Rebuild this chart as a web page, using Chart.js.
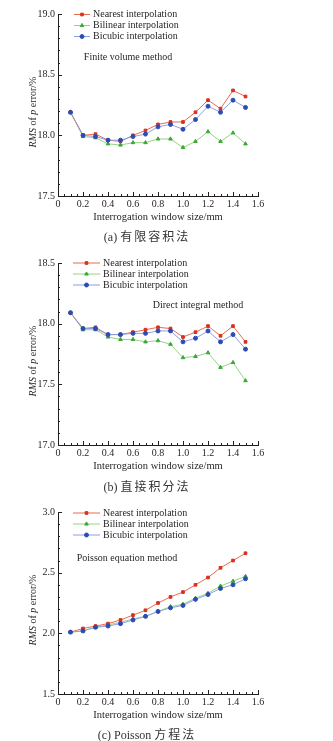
<!DOCTYPE html>
<html>
<head>
<meta charset="utf-8">
<script src="https://cdn.jsdelivr.net/npm/chart.js@4.4.0/dist/chart.umd.min.js"></script>
<style>
  body { margin: 0; background: #fff; width: 333px; height: 741px; position: relative; overflow: hidden; }
  canvas { position: absolute; left: 0; }
  .caption { position: absolute; left: 0; width: 294px; height: 16px; line-height: 16px; text-align: center;
             font: 12px "Liberation Serif", serif; color: #333; white-space: nowrap; }
  .caption .zh { font-family: "Noto Sans CJK SC", sans-serif; letter-spacing: 2px; }
</style>
</head>
<body>
<canvas id="fv" width="333" height="247" style="top:0"></canvas>
<canvas id="di" width="333" height="247" style="top:249px"></canvas>
<canvas id="pe" width="333" height="247" style="top:498px"></canvas>
<div class="caption" style="top:227px">(a) <span class="zh">有限容积法</span></div>
<div class="caption" style="top:477px">(b) <span class="zh">直接积分法</span></div>
<div class="caption" style="top:725px">(c) Poisson <span class="zh">方程法</span></div>
<script>
const windowSize = [0.1, 0.2, 0.3, 0.4, 0.5, 0.6, 0.7, 0.8, 0.9, 1.0, 1.1, 1.2, 1.3, 1.4, 1.5]
const xTicks = [0, 0.2, 0.4, 0.6, 0.8, 1.0, 1.2, 1.4, 1.6]
const xTickLabels = ["0", "0.2", "0.4", "0.6", "0.8", "1.0", "1.2", "1.4", "1.6"]

const seriesNames = ["Nearest interpolation", "Bilinear interpolation", "Bicubic interpolation"]

// (a) finite volume method
const nearestFV = [18.19, 18.00, 18.01, 17.96, 17.95, 18.00, 18.04, 18.09, 18.11, 18.11, 18.19, 18.29, 18.22, 18.37, 18.32]
const bilinearFV = [18.19, 17.99, 17.98, 17.93, 17.92, 17.94, 17.94, 17.97, 17.97, 17.90, 17.95, 18.03, 17.95, 18.02, 17.93]
const bicubicFV = [18.19, 18.00, 17.99, 17.96, 17.96, 17.99, 18.01, 18.07, 18.09, 18.05, 18.13, 18.24, 18.19, 18.29, 18.23]
const yTicksFV = [17.5, 18.0, 18.5, 19.0]
const yTickLabelsFV = ["17.5", "18.0", "18.5", "19.0"]

// (b) direct integral method
const nearestDI = [18.09, 17.96, 17.97, 17.91, 17.91, 17.93, 17.95, 17.97, 17.96, 17.89, 17.93, 17.98, 17.90, 17.98, 17.85]
const bilinearDI = [18.09, 17.95, 17.95, 17.89, 17.87, 17.87, 17.85, 17.86, 17.83, 17.72, 17.73, 17.76, 17.64, 17.68, 17.53]
const bicubicDI = [18.09, 17.96, 17.96, 17.91, 17.91, 17.92, 17.92, 17.94, 17.94, 17.85, 17.88, 17.94, 17.85, 17.91, 17.79]
const yTicksDI = [17.0, 17.5, 18.0, 18.5]
const yTickLabelsDI = ["17.0", "17.5", "18.0", "18.5"]

// (c) Poisson equation method
const nearestPE = [2.01, 2.04, 2.06, 2.08, 2.11, 2.15, 2.19, 2.25, 2.30, 2.34, 2.40, 2.46, 2.54, 2.60, 2.66]
const bilinearPE = [2.01, 2.02, 2.05, 2.07, 2.09, 2.12, 2.14, 2.18, 2.22, 2.24, 2.29, 2.33, 2.39, 2.43, 2.47]
const bicubicPE = [2.01, 2.02, 2.05, 2.06, 2.08, 2.11, 2.14, 2.18, 2.21, 2.23, 2.28, 2.32, 2.37, 2.40, 2.45]
const yTicksPE = [1.5, 2.0, 2.5, 3.0]
const yTickLabelsPE = ["1.5", "2.0", "2.5", "3.0"]

const ink = "#231f20"
const serif = "'Liberation Serif', 'Times New Roman', serif"
const lineColors = ["#ea6b4b", "#96d386", "#8e9fe3"]
const markColors = ["#d8301f", "#3aa935", "#2c4cb4"]
const markStyles = ["rect", "triangle", "circle"]
const markRadius = [1.9, 2.1, 2.0]
const drawOrder = [1, 2, 0]

// inward minor/major ticks, y title with italics, legend and method note
const decorations = {
  id: "decorations",
  afterDraw(chart, args, o) {
    const ctx = chart.ctx
    const xs = chart.scales.x, ys = chart.scales.y, a = chart.chartArea
    ctx.save()
    ctx.strokeStyle = ink
    ctx.lineWidth = 1
    ctx.beginPath()
    for (let i = 0; i <= 32; i++) {
      const px = Math.round(xs.getPixelForValue(i * 0.05)) + 0.5
      const len = i % 4 === 0 ? 4 : 2
      ctx.moveTo(px, a.bottom)
      ctx.lineTo(px, a.bottom - len)
    }
    const yMin = ys.min
    for (let i = 0; i <= 15; i++) {
      const py = Math.round(ys.getPixelForValue(yMin + i * 0.1)) + 0.5
      const len = i % 5 === 0 ? 4 : 2
      ctx.moveTo(a.left, py)
      ctx.lineTo(a.left + len, py)
    }
    ctx.stroke()

    // y axis title: "RMS of p error/%"
    const parts = [["RMS", true], [" of ", false], ["p", true], [" error/%", false]]
    ctx.fillStyle = ink
    ctx.textBaseline = "middle"
    ctx.textAlign = "left"
    let total = 0
    parts.forEach(p => {
      ctx.font = (p[1] ? "italic " : "") + "10px " + serif
      total += ctx.measureText(p[0]).width
    })
    ctx.translate(33, (a.top + a.bottom) / 2 + 7)
    ctx.rotate(-Math.PI / 2)
    let cx = -total / 2
    parts.forEach(p => {
      ctx.font = (p[1] ? "italic " : "") + "10px " + serif
      ctx.fillText(p[0], cx, 0)
      cx += ctx.measureText(p[0]).width
    })
    ctx.setTransform(1, 0, 0, 1, 0, 0)

    // legend
    ctx.font = "10px " + serif
    chart.data.datasets.forEach((ds, i) => {
      const ly = o.legendY + i * 11
      ctx.strokeStyle = ds.borderColor
      ctx.beginPath()
      ctx.moveTo(o.legendX, ly + 0.5)
      ctx.lineTo(o.legendX + o.legendW, ly + 0.5)
      ctx.stroke()
      ctx.fillStyle = ds.pointBackgroundColor
      ctx.strokeStyle = ds.pointBackgroundColor
      Chart.helpers.drawPoint(ctx, { pointStyle: ds.pointStyle, rotation: 0, radius: ds.pointRadius, borderWidth: 1 }, o.legendX + o.legendW / 2, ly + 0.5)
      ctx.fillStyle = ink
      ctx.textAlign = "left"
      ctx.fillText(ds.label, o.legendX + o.legendW + 3, ly + 0.5)
    })

    // method note
    ctx.font = "10px " + serif
    ctx.textAlign = "center"
    ctx.fillText(o.note, o.noteX, o.noteY)
    ctx.restore()
  }
}

function makeChart(id, series, yTicks, yTickLabels, note) {
  const ctx = document.getElementById(id).getContext("2d")
  return new Chart(ctx, {
    type: "line",
    data: {
      datasets: series.map((vals, i) => ({
        label: seriesNames[i],
        data: windowSize.map((x, j) => ({ x, y: vals[j] })),
        borderColor: lineColors[i],
        borderWidth: 1,
        pointStyle: markStyles[i],
        pointRadius: markRadius[i],
        pointBackgroundColor: markColors[i],
        pointBorderColor: markColors[i],
        pointBorderWidth: 1,
        tension: 0,
        order: drawOrder[i],
      })),
    },
    options: {
      responsive: false,
      animation: false,
      events: [],
      layout: { padding: { top: 14, right: 75, left: 0, bottom: 0 } },
      plugins: {
        legend: { display: false },
        tooltip: { enabled: false },
        decorations: note,
      },
      scales: {
        x: {
          type: "linear",
          min: 0,
          max: 1.6,
          afterFit: s => { s.height = 51 },
          afterBuildTicks: s => { s.ticks = xTicks.map(v => ({ value: v })) },
          border: { color: ink, width: 1 },
          grid: { drawOnChartArea: false, drawTicks: false },
          ticks: {
            padding: 2,
            color: ink,
            maxRotation: 0,
            font: { family: serif, size: 10 },
            callback: (v, i) => xTickLabels[i],
          },
          title: {
            display: true,
            text: "Interrogation window size/mm",
            color: ink,
            font: { family: serif, size: 10.5 },
            padding: { top: 0, bottom: 23 },
          },
        },
        y: {
          min: yTicks[0],
          max: yTicks[yTicks.length - 1],
          afterFit: s => { s.width = 58 },
          afterBuildTicks: s => { s.ticks = yTicks.map(v => ({ value: v })) },
          border: { color: ink, width: 1 },
          grid: { drawOnChartArea: false, drawTicks: false },
          ticks: {
            padding: 3,
            color: ink,
            font: { family: serif, size: 10 },
            callback: (v, i) => yTickLabels[i],
          },
        },
      },
    },
    plugins: [decorations],
  })
}

makeChart("fv", [nearestFV, bilinearFV, bicubicFV], yTicksFV, yTickLabelsFV,
  { legendX: 74, legendY: 14, legendW: 16, note: "Finite volume method", noteX: 128, noteY: 57 })
makeChart("di", [nearestDI, bilinearDI, bicubicDI], yTicksDI, yTickLabelsDI,
  { legendX: 73, legendY: 13.5, legendW: 27, note: "Direct integral method", noteX: 198, noteY: 56 })
makeChart("pe", [nearestPE, bilinearPE, bicubicPE], yTicksPE, yTickLabelsPE,
  { legendX: 73, legendY: 14.5, legendW: 27, note: "Poisson equation method", noteX: 127, noteY: 60 })
</script>
</body>
</html>
